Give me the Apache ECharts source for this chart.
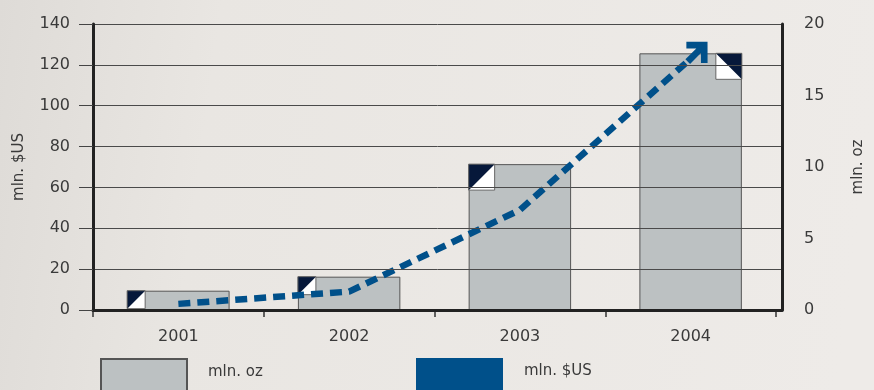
<!DOCTYPE html>
<html><head><meta charset="utf-8">
<script src="https://cdn.jsdelivr.net/npm/echarts@6/dist/echarts.min.js"></script>
<style>html,body{margin:0;padding:0;}#c{width:874px;height:390px;}</style>
</head><body><div id="c"></div>
<script>
// Data
var categories = ['2001', '2002', '2003', '2004'];
var ozValues = [1.35, 2.33, 10.2, 17.95];      // mln. oz (bars, right axis)
var usdValues = [3, 9, 49, 123];               // mln. $US (dashed line, left axis)
var leftTicks = [0, 20, 40, 60, 80, 100, 120, 140];
var rightTicks = [0, 5, 10, 15, 20];

var FONT = 'DejaVu Sans';
var TXT = '#3a3a3a';
var NAVY = '#06183a';
var BLUE = '#00508a';

var chart = echarts.init(document.getElementById('c'), null, {renderer: 'canvas'});

var lineData = usdValues.map(function (v, i) {
  if (i === usdValues.length - 1) {
    return {
      value: v,
      symbol: 'path://M0,16 L16,0 L32,16 L27,21 L19.5,13.5 L19.5,30 L12.5,30 L12.5,13.5 L5,21 Z',
      symbolSize: [30, 28],
      symbolRotate: -45,
      symbolOffset: [7, -7],
      itemStyle: {color: BLUE}
    };
  }
  return {value: v, symbol: 'none'};
});

function legendCfg(name, left, w) {
  return {
    data: [name], left: left, top: 358, padding: 0, itemWidth: w, itemHeight: 40,
    icon: 'rect',
    formatter: function (n) { return '{t|' + n + '}'; },
    textStyle: {
      fontFamily: FONT, fontSize: 15, color: TXT,
      rich: {t: {fontFamily: FONT, fontSize: 15, color: TXT, padding: [0, 0, 14, 16]}}
    }
  };
}

var option = {
  backgroundColor: {
    type: 'linear', x: 0, y: 0, x2: 1, y2: 0.3,
    colorStops: [
      {offset: 0, color: '#dedbd7'},
      {offset: 0.25, color: '#e9e6e2'},
      {offset: 1, color: '#eeebe8'}
    ]
  },
  animation: false,
  grid: [
    {left: 93, right: 98, top: 24, bottom: 80},
    {left: 93, right: 84, top: 24, bottom: 80}
  ],
  legend: [legendCfg('mln. oz', 100, 86), legendCfg('mln. $US', 416, 87)],
  xAxis: [
    {
      gridIndex: 0, type: 'category', data: categories,
      axisLine: {show: false},
      axisTick: {show: true, length: 7, lineStyle: {color: '#333', width: 1.5}},
      axisLabel: {fontFamily: FONT, fontSize: 16, color: TXT, margin: 19},
      splitLine: {show: false}
    },
    {
      gridIndex: 1, type: 'value', min: 0, max: 1, z: 5,
      axisLine: {show: true, onZero: false, lineStyle: {color: '#222', width: 3}},
      axisTick: {show: false}, axisLabel: {show: false}, splitLine: {show: false}
    }
  ],
  yAxis: [
    {
      gridIndex: 1, type: 'value', min: 0, max: 140, interval: 20, position: 'left', z: 5,
      name: 'mln. $US', nameLocation: 'middle', nameRotate: 90, nameGap: 66,
      nameTextStyle: {fontFamily: FONT, fontSize: 15, color: TXT},
      axisLine: {show: true, lineStyle: {color: '#222', width: 3}},
      axisTick: {show: true, length: 14, lineStyle: {color: '#444', width: 1}},
      axisLabel: {fontFamily: FONT, fontSize: 16, color: TXT, margin: 23, padding: [0, 0, 8, 0],
        formatter: function (v) { return leftTicks.indexOf(v) >= 0 ? String(v) : ''; }},
      splitLine: {show: true, lineStyle: {color: '#4a4a4a', width: 1}}
    },
    {
      gridIndex: 1, type: 'value', min: 0, max: 20, interval: 5, position: 'right', z: 5,
      name: 'mln. oz', nameLocation: 'middle', nameRotate: 90, nameGap: 69,
      nameTextStyle: {fontFamily: FONT, fontSize: 15, color: TXT},
      axisLine: {show: true, lineStyle: {color: '#222', width: 3}},
      axisTick: {show: false},
      axisLabel: {fontFamily: FONT, fontSize: 16, color: TXT, margin: 22, padding: [0, 0, 8, 0],
        formatter: function (v) { return rightTicks.indexOf(v) >= 0 ? String(v) : ''; }},
      splitLine: {show: false}
    },
    {gridIndex: 0, type: 'value', min: 0, max: 140, show: false},
    {gridIndex: 0, type: 'value', min: 0, max: 20, show: false}
  ],
  series: [
    {
      name: 'mln. oz', type: 'bar', xAxisIndex: 0, yAxisIndex: 3,
      data: ozValues, barWidth: '60%', z: 2,
      itemStyle: {color: '#bcc1c2', borderColor: '#555', borderWidth: 1}
    },
    {
      name: 'corner', type: 'custom', xAxisIndex: 0, yAxisIndex: 3, z: 3,
      data: ozValues.map(function (v, i) { return [i, v]; }),
      renderItem: function (params, api) {
        var i = api.value(0), v = api.value(1);
        var top = api.coord([i, v]);
        var bw = api.size([1, 0])[0] * 0.6;
        var s = i < 2 ? 18 : 26;
        var left = top[0] - bw / 2, right = top[0] + bw / 2, y = top[1];
        var flip = (i === ozValues.length - 1);
        var x0 = flip ? right - s : left;
        var dark, light;
        if (!flip) {
          dark = [[x0, y], [x0 + s, y], [x0, y + s]];
          light = [[x0 + s, y], [x0 + s, y + s], [x0, y + s]];
        } else {
          dark = [[x0, y], [x0 + s, y], [x0 + s, y + s]];
          light = [[x0, y], [x0 + s, y + s], [x0, y + s]];
        }
        return {
          type: 'group',
          children: [
            {type: 'polygon', shape: {points: light}, style: {fill: '#ffffff'}},
            {type: 'polygon', shape: {points: dark}, style: {fill: NAVY}},
            {type: 'rect', shape: {x: x0, y: y, width: s, height: s}, style: {fill: 'none', stroke: '#666', lineWidth: 1}}
          ]
        };
      }
    },
    {
      name: 'mln. $US', type: 'line', xAxisIndex: 0, yAxisIndex: 2, z: 4,
      data: lineData, color: BLUE,
      itemStyle: {color: BLUE},
      lineStyle: {color: BLUE, width: 6.5, type: [12, 7], cap: 'butt'}
    }
  ]
};
chart.setOption(option);
</script>
</body></html>
